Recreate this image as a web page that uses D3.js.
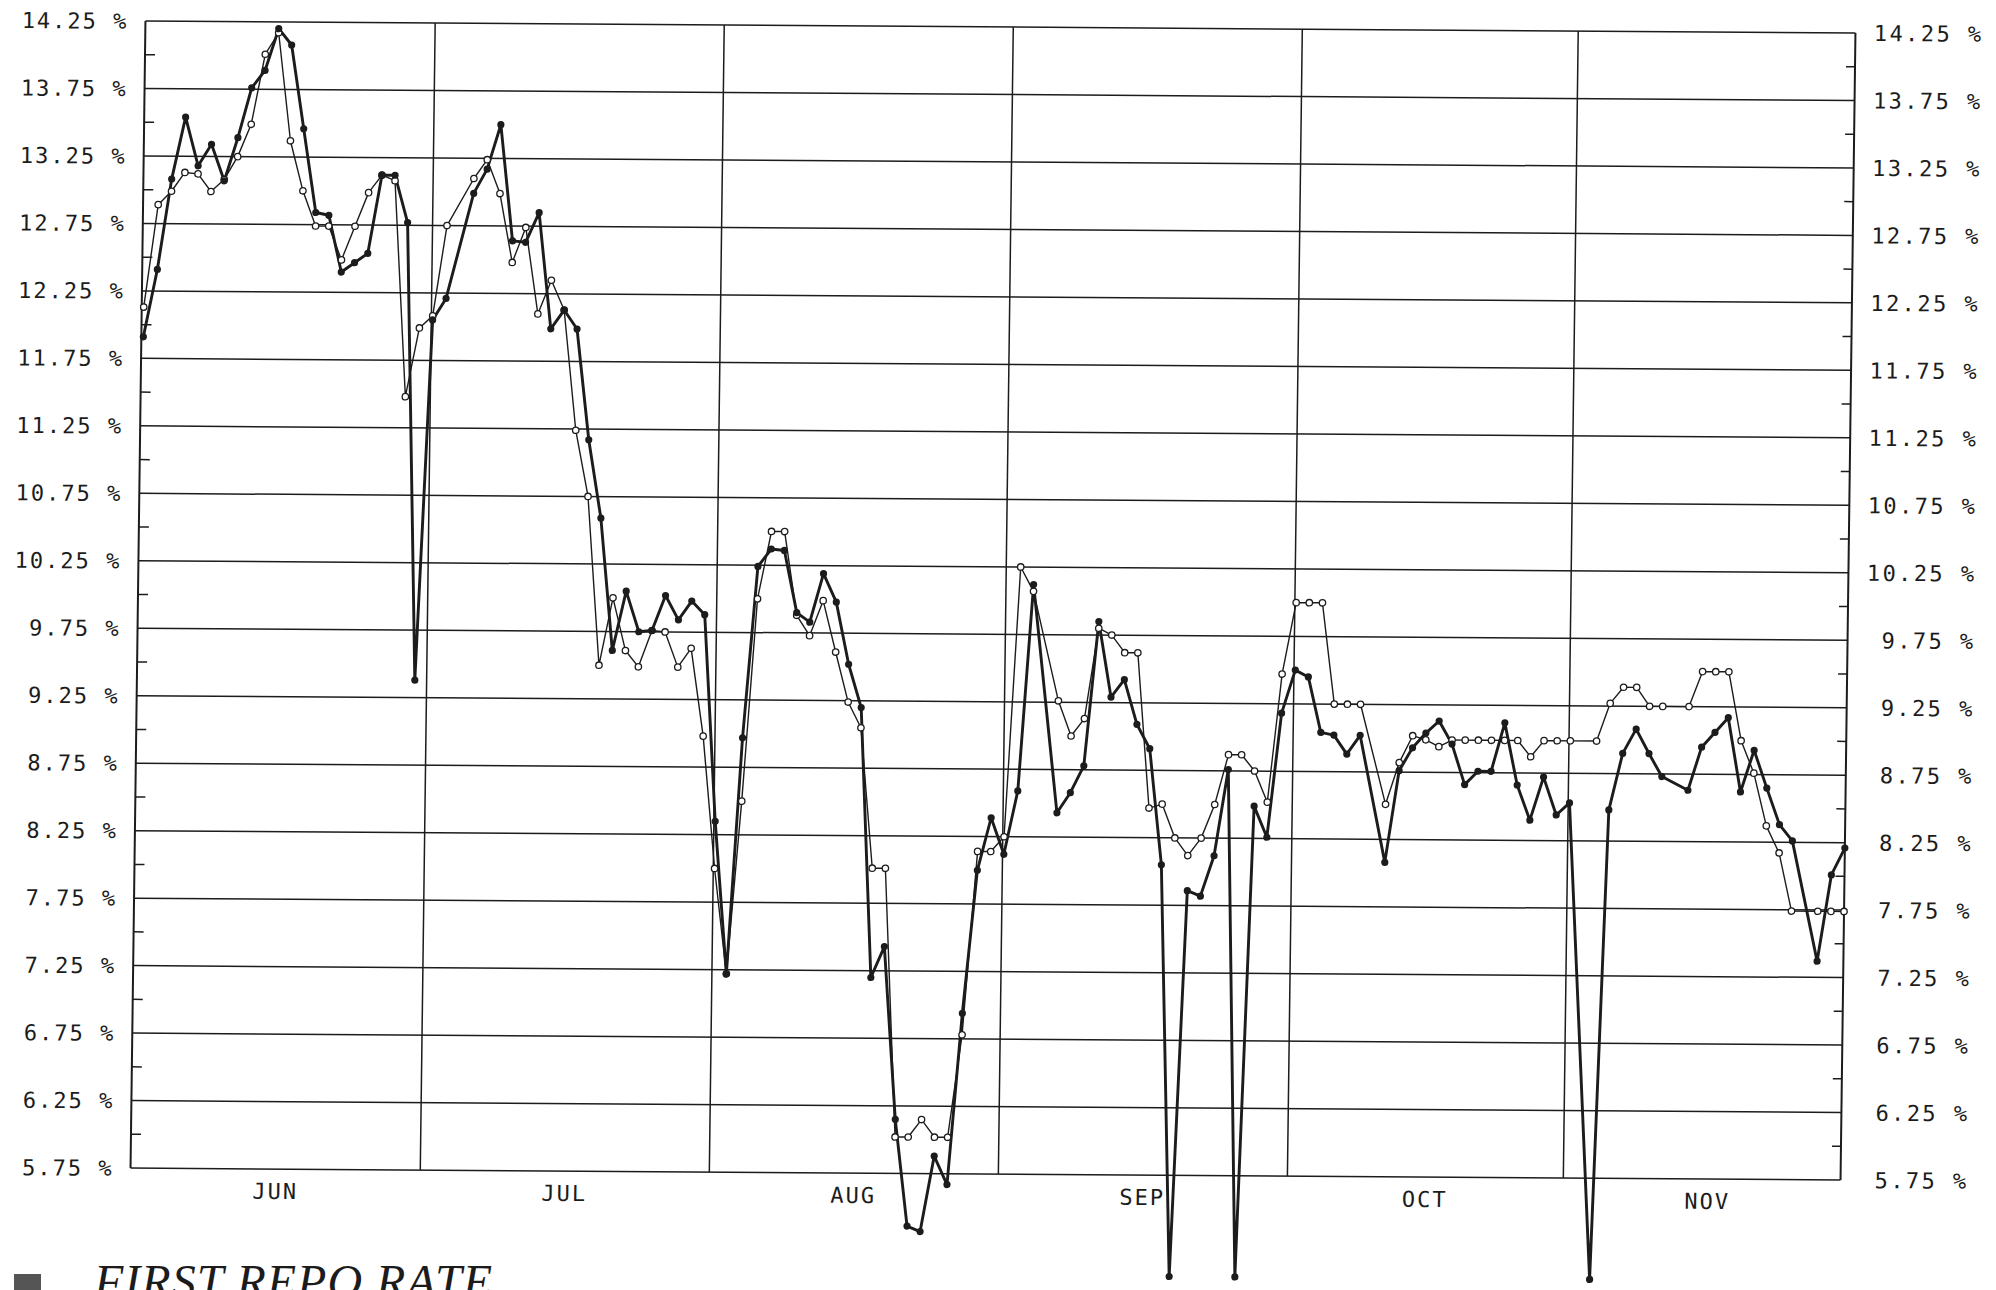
<!DOCTYPE html>
<html>
<head>
<meta charset="utf-8">
<script src="https://cdn.jsdelivr.net/npm/d3@7"></script>
<style>
  body { margin: 0; background: #fff; }
  svg text { font-family: "DejaVu Sans Mono", monospace; fill: #1c1c1c; }
</style>
</head>
<body>
<div id="chart"></div>
<script>
//x = weekday number counted from Jun 1 1982 (0) to Nov 30 (130)
const months = ["JUN", "JUL", "AUG", "SEP", "OCT", "NOV"];
const monthStart = [0, 22, 44, 66, 88, 109];
const lastDay = 130;

//y tick labels and the small ticks between them
const yTicks = [5.75, 6.25, 6.75, 7.25, 7.75, 8.25, 8.75, 9.25, 9.75, 10.25, 10.75, 11.25, 11.75, 12.25, 12.75, 13.25, 13.75, 14.25];
const yMinor = [6, 6.5, 7, 7.5, 8, 8.5, 9, 9.5, 10, 10.5, 11, 11.5, 12, 12.5, 13, 13.5, 14];

//heavy line, filled dots (null = no quote that day)
const heavy = [
  11.91, 12.41, 13.08, 13.54, 13.18, 13.34, 13.07, 13.39, 13.76, 13.89, 14.20, 14.08, 13.46, 12.84, 12.82, 12.40, 12.47, 12.54, 13.12, 13.12, 12.77, 9.38,
  12.05, 12.21, null, 12.99, 13.17, 13.50, 12.64, 12.63, 12.85, 11.99, 12.13, 11.99, 11.17, 10.59, 9.61, 10.05, 9.75, 9.76, 10.02, 9.84, 9.98, 9.88,
  8.35, 7.22, 8.97, 10.24, 10.37, 10.36, 9.90, 9.83, 10.19, 9.98, 9.52, 9.20, 7.20, 7.43, 6.15, 5.36, 5.32, 5.88, 5.67, 6.94, 8.00, 8.39,
  8.12, 8.59, 10.12, null, 8.43, 8.58, 8.78, 9.85, 9.29, 9.42, 9.09, 8.91, 8.05, 5.00, 7.86, 7.82, 8.12, 8.76, 5.00, 8.49, 8.26, 9.18,
  9.50, 9.45, 9.04, 9.02, 8.88, 9.02, null, 8.08, 8.76, 8.93, 9.04, 9.13, 8.96, 8.66, 8.76, 8.76, 9.12, 8.66, 8.40, 8.72, 8.44,
  8.53, null, 5.00, 8.48, 8.90, 9.08, 8.90, 8.73, null, 8.63, 8.95, 9.06, 9.17, 8.62, 8.93, 8.65, 8.38, 8.26, null, 7.37, 8.01, 8.21
];

//light line, open circles
const light = [
  12.13, 12.89, 12.99, 13.13, 13.12, 12.99, 13.08, 13.25, 13.49, 14.01, 14.17, 13.37, 13.00, 12.74, 12.74, 12.49, 12.74, 12.99, 13.12, 13.08, 11.48, 11.99,
  12.08, 12.75, null, 13.10, 13.24, 12.99, 12.48, 12.74, 12.10, 12.35, 12.13, 11.24, 10.75, 9.50, 10.00, 9.61, 9.49, 9.76, 9.75, 9.49, 9.63, 8.98,
  8.00, 7.22, 8.50, 10.00, 10.50, 10.50, 9.88, 9.73, 9.99, 9.61, 9.24, 9.05, 8.01, 8.01, 6.02, 6.02, 6.15, 6.02, 6.02, 6.78, 8.14, 8.14,
  8.25, 10.25, 10.07, null, 9.26, 9.00, 9.13, 9.80, 9.75, 9.62, 9.62, 8.47, 8.50, 8.25, 8.12, 8.25, 8.50, 8.87, 8.87, 8.75, 8.52, 9.47,
  10.00, 10.00, 10.00, 9.25, 9.25, 9.25, null, 8.51, 8.82, 9.02, 8.99, 8.94, 8.99, 8.99, 8.99, 8.99, 8.99, 8.99, 8.87, 8.99, 8.99,
  8.99, null, 8.99, 9.27, 9.39, 9.39, 9.25, 9.25, null, 9.25, 9.51, 9.51, 9.51, 9.00, 8.76, 8.37, 8.17, 7.74, null, 7.74, 7.74, 7.74
];

const W = 1996, H = 1290;
const plot = { left: 138, right: 1848, top: 27, bottom: 1174 };
const ink = "#1c1c1c";

const svg = d3.select("#chart").append("svg")
  .attr("width", W)
  .attr("height", H)
  .style("background", "#fff");

//the plotter sheet sits a little crooked in the scan: lean the whole chart the same way
const kx = -0.013, ky = 0.007;
const g = svg.append("g")
  .attr("transform", `matrix(1,${ky},${kx},1,${-kx * 600},${-ky * 993})`);

const x = d3.scaleLinear().domain([0, lastDay]).range([140, plot.right]);
const y = d3.scaleLinear().domain([5.75, 14.25]).range([plot.bottom, plot.top]);

//grid
const grid = g.append("g").attr("stroke", ink);
grid.selectAll("line.h").data(yTicks).join("line")
  .attr("class", "h")
  .attr("x1", plot.left).attr("x2", plot.right)
  .attr("y1", d => y(d)).attr("y2", d => y(d))
  .attr("stroke-width", 1.5);

grid.selectAll("line.m").data(monthStart.slice(1)).join("line")
  .attr("class", "m")
  .attr("x1", d => x(d - 0.1)).attr("x2", d => x(d - 0.1))
  .attr("y1", plot.top).attr("y2", plot.bottom)
  .attr("stroke-width", 1.5);

//frame sides
grid.append("line").attr("x1", plot.left).attr("x2", plot.left)
  .attr("y1", plot.top).attr("y2", plot.bottom).attr("stroke-width", 2);
grid.append("line").attr("x1", plot.right).attr("x2", plot.right)
  .attr("y1", plot.top).attr("y2", plot.bottom).attr("stroke-width", 2);

//small in-between ticks
grid.selectAll("line.tl").data(yMinor).join("line")
  .attr("class", "tl")
  .attr("x1", plot.left).attr("x2", plot.left + 10)
  .attr("y1", d => y(d)).attr("y2", d => y(d))
  .attr("stroke-width", 1.5);
grid.selectAll("line.tr").data(yMinor).join("line")
  .attr("class", "tr")
  .attr("x1", plot.right - 9).attr("x2", plot.right)
  .attr("y1", d => y(d)).attr("y2", d => y(d))
  .attr("stroke-width", 1.5);

//tick labels both sides
const fmt = d => d.toFixed(2) + " %";
g.append("g").selectAll("text").data(yTicks).join("text")
  .attr("x", 121).attr("y", d => y(d)).attr("dy", "0.36em")
  .attr("text-anchor", "end")
  .attr("font-size", 22)
  .attr("letter-spacing", 2)
  .text(fmt);
g.append("g").selectAll("text").data(yTicks).join("text")
  .attr("x", 1976).attr("y", d => y(d)).attr("dy", "0.36em")
  .attr("text-anchor", "end")
  .attr("font-size", 22)
  .attr("letter-spacing", 2.4)
  .text(fmt);

//month names in the middle of each month
const monthEnd = monthStart.slice(1).map(d => d - 1).concat([lastDay]);
g.append("g").selectAll("text").data(months).join("text")
  .attr("x", (d, i) => x((monthStart[i] + monthEnd[i]) / 2) + 5)
  .attr("y", plot.bottom + 22).attr("dy", "0.36em")
  .attr("text-anchor", "middle")
  .attr("font-size", 22)
  .attr("letter-spacing", 2)
  .text(d => d);

//series
function pts(arr) {
  return arr.map((v, i) => ({ i: i, v: v })).filter(d => d.v !== null);
}
const line = d3.line().x(d => x(d.i)).y(d => y(d.v));

const lightPts = pts(light), heavyPts = pts(heavy);

g.append("path").datum(lightPts)
  .attr("d", line).attr("fill", "none")
  .attr("stroke", ink).attr("stroke-width", 1.4).attr("stroke-linejoin", "round");
g.append("path").datum(heavyPts)
  .attr("d", line).attr("fill", "none")
  .attr("stroke", ink).attr("stroke-width", 2.9).attr("stroke-linejoin", "round");

g.append("g").selectAll("circle").data(lightPts).join("circle")
  .attr("cx", d => x(d.i)).attr("cy", d => y(d.v)).attr("r", 3.2)
  .attr("fill", "#fff").attr("stroke", ink).attr("stroke-width", 1.3);
g.append("g").selectAll("circle").data(heavyPts).join("circle")
  .attr("cx", d => x(d.i)).attr("cy", d => y(d.v)).attr("r", 3.6)
  .attr("fill", ink);

//handwritten note at the bottom, cut off by the page edge
svg.append("rect").attr("x", 14).attr("y", 1274).attr("width", 27).attr("height", 16)
  .attr("fill", "#555");
svg.append("text")
  .attr("x", 94).attr("y", 1298)
  .style("font-family", "'Liberation Serif', serif")
  .style("font-style", "italic")
  .attr("font-size", 48)
  .attr("letter-spacing", 1)
  .text("FIRST REPO RATE");
</script>
</body>
</html>
